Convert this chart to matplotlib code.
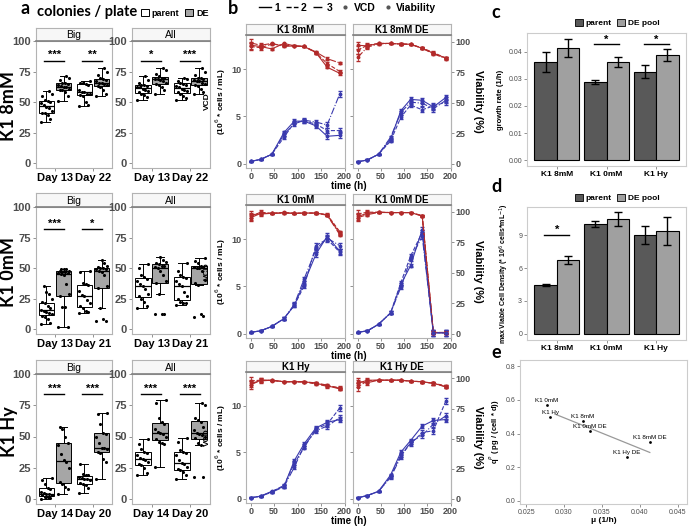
import numpy as np
import matplotlib
matplotlib.use('Agg')
import matplotlib.pyplot as plt
from matplotlib.patches import Patch
from matplotlib.lines import Line2D

plt.rcParams['font.family'] = ['Liberation Sans', 'DejaVu Sans']
BIG_FONT = ['Lato', 'DejaVu Sans']

W, H = 689, 527

# ---------------- panel a: colonies / plate ----------------
rows_a = ['K1 8mM', 'K1 0mM', 'K1 Hy']
days_a = [['Day 13', 'Day 22'], ['Day 13', 'Day 21'], ['Day 14', 'Day 20']]
facets_a = ['Big', 'All']

# order inside each list: day1 parent, day1 DE, day2 parent, day2 DE
big_8mm = [
    [34, 36, 39, 41, 41, 43, 45, 46, 48, 49, 50, 51, 52, 55, 57, 59],
    [51, 55, 58, 60, 60, 61, 62, 62, 63, 64, 65, 66, 66, 68, 70, 71],
    [47, 48, 50, 55, 56, 57, 57, 58, 58, 60, 64, 65, 66, 66, 67],
    [55, 57, 60, 62, 63, 64, 65, 66, 66, 67, 68, 69, 70, 72, 75, 78],
]
all_8mm = [
    [52, 54, 56, 57, 58, 59, 60, 61, 62, 62, 63, 64, 64, 66, 68, 71],
    [57, 60, 62, 64, 65, 66, 67, 68, 69, 69, 70, 70, 71, 73, 76, 78],
    [52, 53, 55, 57, 58, 59, 60, 61, 62, 63, 64, 65, 66, 67, 69, 70],
    [57, 58, 61, 63, 64, 65, 66, 67, 67, 68, 69, 70, 70, 72, 75, 78],
]
big_0mm = [
    [4, 5, 8, 10, 11, 12, 13, 14, 15, 16, 17, 19, 21, 22, 25, 29, 30, 35],
    [2, 2, 18, 18, 27, 29, 37, 44, 45, 46, 46, 47, 47, 48, 48, 49, 49, 49],
    [13, 14, 15, 17, 19, 21, 24, 27, 28, 31, 36, 37, 38, 47, 48],
    [7, 7, 8, 17, 34, 35, 44, 47, 48, 49, 49, 50, 50, 51, 52, 54, 57],
]
all_0mm = [
    [17, 19, 22, 25, 27, 29, 33, 35, 37, 39, 41, 43, 44, 50, 53],
    [12, 12, 12, 29, 38, 39, 44, 48, 50, 51, 52, 52, 53, 54, 55, 57, 59],
    [20, 21, 21, 22, 25, 27, 30, 35, 37, 39, 42, 43, 44, 48, 54],
    [10, 11, 12, 36, 38, 40, 48, 50, 50, 51, 51, 52, 54, 56, 58],
]
big_hy = [
    [0, 1, 2, 2, 3, 3, 4, 4, 5, 6, 8, 9, 12, 15, 17],
    [4, 8, 10, 12, 14, 25, 30, 31, 36, 43, 45, 50, 56, 58],
    [5, 9, 11, 12, 13, 15, 16, 16, 17, 18, 19, 19, 20, 28],
    [16, 30, 32, 37, 38, 40, 41, 41, 45, 50, 52, 53, 60, 68, 69],
]
all_hy = [
    [19, 21, 25, 27, 28, 30, 31, 32, 33, 35, 37, 38, 40, 44, 48],
    [26, 44, 45, 46, 48, 50, 52, 53, 54, 56, 60, 62, 65, 77, 79],
    [16, 19, 22, 23, 24, 26, 28, 29, 31, 35, 37, 38, 39, 46, 49],
    [18, 18, 43, 45, 49, 50, 51, 52, 53, 55, 58, 62, 63, 65, 75, 77],
]
sig_8mm = [['***', '**'], ['*', '***']]
sig_0mm = [['***', '*'], ['', '']]
sig_hy = [['***', '***'], ['***', '***']]
sig_level_a = [84, 82, 84]

# ---------------- panel b: growth curves ----------------
time_h = [0, 21, 45, 71, 93, 114, 139, 163, 190]
facets_b = [['K1 8mM', 'K1 8mM DE'], ['K1 0mM', 'K1 0mM DE'], ['K1 Hy', 'K1 Hy DE']]

vcd_8mm = [[0.25, 0.45, 1.0, 3.3, 4.5, 4.5, 4.0, 2.9, 3.0],
           [0.25, 0.45, 1.0, 2.8, 4.35, 4.5, 4.2, 3.5, 3.5],
           [0.25, 0.45, 1.0, 3.1, 4.2, 4.6, 4.4, 4.1, 7.4]]
via_8mm = [[97, 96, 94, 98.5, 96.5, 96, 91, 79, 74],
           [96, 95, 98, 97, 96.5, 96, 91, 82, 75.5],
           [99, 97, 98.5, 96, 96.5, 96, 91.5, 86, 82.5]]
vcd_8mm_de = [[0.2, 0.4, 1.0, 2.6, 5.6, 6.8, 6.7, 6.0, 7.0],
              [0.2, 0.4, 1.0, 2.4, 4.9, 6.2, 5.7, 6.1, 6.5],
              [0.2, 0.4, 1.0, 2.8, 5.4, 6.5, 6.4, 5.8, 6.7]]
via_8mm_de = [[97, 96.5, 98.5, 98.5, 98, 97.8, 94.5, 90.5, 86.5],
              [93, 97, 98.5, 98.5, 98, 97.8, 94.8, 91, 86.5],
              [87, 95.5, 98, 98.5, 98, 97.8, 94.5, 90, 86]]
vcd_0mm = [[0.15, 0.3, 0.77, 1.6, 3.0, 5.4, 8.4, 10.3, 8.7],
           [0.15, 0.3, 0.77, 1.6, 3.0, 5.05, 9.3, 10.0, 8.6],
           [0.15, 0.3, 0.77, 1.6, 3.1, 5.8, 8.9, 10.1, 9.3]]
via_0mm = [[95, 98.5, 98.6, 99, 98.6, 98.8, 98.8, 97.3, 82],
           [96, 99.5, 98.6, 99.3, 98.6, 98.8, 98.8, 97.5, 83.5],
           [97.5, 98, 98.6, 98.8, 98.6, 98.8, 98.8, 97.0, 81]]
vcd_0mm_de = [[0.15, 0.3, 1.0, 2.2, 5.2, 7.2, 11.0, 0.1, 0.1],
              [0.15, 0.3, 1.0, 2.2, 5.4, 8.2, 10.7, 0.1, 0.1],
              [0.15, 0.3, 1.0, 2.2, 4.9, 7.9, 10.3, 0.1, 0.1]]
via_0mm_de = [[96, 98.6, 99.5, 99.2, 99.2, 99.2, 96.5, 1, 1],
              [98, 99.5, 99.5, 99.2, 99.2, 99.2, 96.8, 1, 1],
              [95, 97.5, 99.3, 99.2, 99.2, 99.2, 96.3, 1, 1]]
vcd_hy = [[0.1, 0.28, 0.8, 1.33, 4.1, 5.9, 7.6, 8.2, 8.5],
          [0.1, 0.28, 0.75, 1.45, 3.8, 5.5, 7.5, 8.0, 9.75],
          [0.1, 0.28, 0.7, 1.3, 3.4, 5.7, 7.3, 7.8, 8.7]]
via_hy = [[94.6, 98.6, 98.6, 97.3, 97.3, 97.3, 96, 94, 91.3],
          [98, 98.6, 98.3, 97.3, 97.3, 97, 95.5, 93.5, 92.5],
          [96, 98, 98.6, 97.3, 97.3, 97.3, 96.3, 94.5, 91.8]]
vcd_hy_de = [[0.1, 0.35, 0.8, 2.56, 5.0, 6.25, 7.8, 8.4, 8.5],
             [0.1, 0.35, 0.8, 2.4, 4.7, 5.9, 7.1, 7.3, 10.5],
             [0.1, 0.35, 0.8, 2.3, 4.5, 6.1, 6.8, 8.0, 8.9]]
via_hy_de = [[96, 98.6, 98.6, 98.6, 98.6, 97.8, 97.3, 96, 93.2],
             [93, 98, 98.6, 98.6, 98.6, 97.8, 97.3, 96, 94],
             [97.5, 96.5, 98.6, 98.6, 98.6, 97.8, 97.3, 96, 93]]
vcd_err = [0.05, 0.05, 0.08, 0.15, 0.2, 0.2, 0.25, 0.3, 0.3]
via_err = [3, 1.5, 0.5, 0.5, 0.5, 0.5, 0.8, 1, 1]
VIA_SCALE = 7.75   # viability (%) per VCD unit on the secondary axis

# ---------------- panels c, d, e ----------------
clones = ['K1 8mM', 'K1 0mM', 'K1 Hy']
growth_parent = [0.0363, 0.0289, 0.0326]
growth_parent_err = [0.0037, 0.0007, 0.0024]
growth_de = [0.0414, 0.0363, 0.0388]
growth_de_err = [0.0033, 0.0017, 0.0022]
maxvcd_parent = [4.45, 10.0, 9.0]
maxvcd_parent_err = [0.05, 0.25, 0.8]
maxvcd_de = [6.75, 10.45, 9.36]
maxvcd_de_err = [0.35, 0.6, 1.3]

mu_e = [0.02776, 0.0282, 0.0325, 0.0334, 0.0413, 0.0383]
qp_e = [0.57, 0.50, 0.475, 0.415, 0.35, 0.26]
labels_e = ['K1 0mM', 'K1 Hy', 'K1 8mM', 'K1 0mM DE', 'K1 8mM DE', 'K1 Hy DE']
fit_range_e = [0.0288, 0.0413]

fig = plt.figure(figsize=(W / 100, H / 100), dpi=100)


def add_ax(x0, y0, x1, y1):
    return fig.add_axes([x0 / W, 1 - y1 / H, (x1 - x0) / W, (y1 - y0) / H])


def style_box(ax, color='#B3B3B3'):
    for s in ax.spines.values():
        s.set_color(color)
        s.set_linewidth(0.8)
    ax.tick_params(color='#808080', length=2, width=0.6, pad=1.5)


def add_strip(x0, x1, y0, y1, text, bold=False, size=7.5):
    sax = add_ax(x0, y0, x1, y1)
    sax.set_facecolor('#F7F7F7')
    sax.set_xticks([])
    sax.set_yticks([])
    style_box(sax)
    sax.spines['bottom'].set_color('#7F7F7F')
    sax.spines['bottom'].set_linewidth(1.2)
    sax.text(0.5, 0.45, text, ha='center', va='center', fontsize=size,
             fontweight='bold' if bold else 'normal', transform=sax.transAxes)


# ---- panel a ----
data_a = [[big_8mm, all_8mm], [big_0mm, all_0mm], [big_hy, all_hy]]
sig_a = [sig_8mm, sig_0mm, sig_hy]
rows_a_y = [(28, 41, 168), (193, 207, 334), (360, 374, 504)]
row_label_y = [106, 272, 432]
cols_a_x = [(36, 112), (132, 210)]
pos = [1 - 0.225, 1 + 0.225, 2 - 0.225, 2 + 0.225]
fills = ['white', '#A6A6A6', 'white', '#A6A6A6']

for r in range(3):
    st, top, bot = rows_a_y[r]
    for c in range(2):
        x0, x1 = cols_a_x[c]
        ax = add_ax(x0, top, x1, bot)
        groups = data_a[r][c]
        bp = ax.boxplot(groups, positions=pos, widths=0.4, patch_artist=True,
                        showfliers=False, capwidths=0.2,
                        medianprops=dict(color='black', lw=0.9),
                        whiskerprops=dict(color='black', lw=0.7),
                        capprops=dict(color='black', lw=0.7),
                        boxprops=dict(edgecolor='black', lw=0.7))
        for patch, fc in zip(bp['boxes'], fills):
            patch.set_facecolor(fc)
        for p, vals in zip(pos, groups):
            offs = [((i * 7) % 9 - 4) * 0.035 for i in range(len(vals))]
            ax.scatter(np.array(offs) + p, vals, s=5, color='black', zorder=3, lw=0)
        sy = sig_level_a[r]
        for d in range(2):
            lab = sig_a[r][c][d]
            if lab:
                ax.plot([d + 1 - 0.28, d + 1 + 0.24], [sy, sy], color='black', lw=1)
                ax.text(d + 0.98, sy + 0.5, lab, ha='center', va='bottom',
                        fontsize=8, fontweight='bold')
        ax.set_xlim(0.5, 2.5)
        ax.set_ylim(-4, 100)
        ax.set_yticks([0, 25, 50, 75, 100])
        ax.set_xticks([1, 2])
        ax.set_xticklabels(days_a[r], fontsize=8, fontweight='bold')
        ax.tick_params(axis='y', labelsize=8, labelcolor='#4D4D4D')
        for t in ax.get_yticklabels():
            t.set_fontweight('bold')
        style_box(ax)
        add_strip(x0, x1, st, top, facets_a[c])
    fig.text(9 / W, 1 - row_label_y[r] / H, rows_a[r], rotation=90,
             ha='center', va='center', fontsize=13, fontweight='bold', family=BIG_FONT)

fig.text(25 / W, 1 - 9 / H, 'a', fontsize=13, fontweight='bold', ha='center',
         va='center', family=BIG_FONT)
fig.text(37 / W, 1 - 12 / H, 'colonies / plate', fontsize=10.5, fontweight='bold',
         ha='left', va='center', family=BIG_FONT)
fig.legend(handles=[Patch(facecolor='white', edgecolor='black', lw=0.7),
                    Patch(facecolor='#A6A6A6', edgecolor='black', lw=0.7)],
           labels=['parent', 'DE'], loc='center left',
           bbox_to_anchor=(136 / W, 1 - 13 / H), ncol=2, frameon=False,
           prop=dict(size=6.5, weight='bold'), handlelength=0.9, handleheight=0.9,
           handletextpad=0.35, columnspacing=0.6, borderpad=0)

# ---- panel b ----
vcd_b = [[vcd_8mm, vcd_8mm_de], [vcd_0mm, vcd_0mm_de], [vcd_hy, vcd_hy_de]]
via_b = [[via_8mm, via_8mm_de], [via_0mm, via_0mm_de], [via_hy, via_hy_de]]
rows_b_y = [(24, 35, 168), (194, 205, 338), (361, 372, 503)]
cols_b_x = [(246, 345), (353, 451)]
styles = ['-', '--', '-.']
blue = '#3A3AAE'
red = '#B22A2A'

for r in range(3):
    st, top, bot = rows_b_y[r]
    for c in range(2):
        x0, x1 = cols_b_x[c]
        ax = add_ax(x0, top, x1, bot)
        for k in range(3):
            ax.errorbar(time_h, np.array(via_b[r][c][k]) / VIA_SCALE,
                        yerr=np.array(via_err) / VIA_SCALE, color=red, ls=styles[k],
                        lw=0.8, marker='o', ms=1.8, capsize=1.3, elinewidth=0.6)
            ax.errorbar(time_h, vcd_b[r][c][k], yerr=vcd_err, color=blue,
                        ls=styles[k], lw=0.8, marker='o', ms=1.8, capsize=1.3,
                        elinewidth=0.6)
        ax.set_xlim(-10, 201)
        ax.set_ylim(-3.5 / VIA_SCALE, 105.4 / VIA_SCALE)
        ax.set_xticks([0, 50, 100, 150, 200])
        ax.set_yticks([0, 5, 10])
        ax.tick_params(labelsize=6.5, labelcolor='#4D4D4D')
        ax.tick_params(axis='x', pad=1)
        for t in ax.get_xticklabels() + ax.get_yticklabels():
            t.set_fontweight('bold')
        style_box(ax)
        ax.tick_params(axis='x', pad=1)
        if c == 0:
            ax.set_ylabel('VCD\n(10$^6$ * cells / mL)', fontsize=6, fontweight='bold',
                          labelpad=2, linespacing=1.3)
        else:
            ax.tick_params(axis='y', labelleft=False)
            sec = ax.secondary_yaxis('right', functions=(lambda v: v * VIA_SCALE,
                                                         lambda v: v / VIA_SCALE))
            sec.set_yticks([0, 25, 50, 75, 100])
            sec.tick_params(labelsize=6.5, labelcolor='#4D4D4D', color='#808080',
                            length=2, width=0.6, pad=1.5)
            for t in sec.get_yticklabels():
                t.set_fontweight('bold')
            sec.spines['right'].set_color('#B3B3B3')
            sec.set_ylabel('Viability (%)', rotation=270, fontsize=8,
                           fontweight='bold', labelpad=9)
        add_strip(x0, x1, st, top, facets_b[r][c], bold=True, size=7)
    fig.text(349 / W, 1 - (bot + 18) / H, 'time (h)', ha='center', va='center',
             fontsize=7, fontweight='bold')

fig.text(233 / W, 1 - 9 / H, 'b', fontsize=13, fontweight='bold', ha='center',
         va='center', family=BIG_FONT)
leg_handles = [Line2D([], [], color='black', ls='-', lw=1),
               Line2D([], [], color='black', ls='--', lw=1),
               Line2D([], [], color='black', ls='-.', lw=1),
               Line2D([], [], color='#555555', ls='none', marker='o', ms=2),
               Line2D([], [], color='#555555', ls='none', marker='o', ms=2)]
fig.legend(handles=leg_handles, labels=['1', '2', '3', 'VCD', 'Viability'],
           loc='center', bbox_to_anchor=(348 / W, 1 - 8 / H), ncol=5, frameon=False,
           prop=dict(size=7.5, weight='bold'), handlelength=1.1, handletextpad=0.3,
           columnspacing=0.6, borderpad=0)

# ---- panels c and d ----
xc = np.arange(1, 4)
dark_grey = '#595959'
light_grey = '#A0A0A0'


def bar_panel(ax, vp, ep, vd, ed):
    ax.bar(xc - 0.225, vp, 0.45, color=dark_grey, edgecolor='black', lw=0.8)
    ax.bar(xc + 0.225, vd, 0.45, color=light_grey, edgecolor='black', lw=0.8)
    ax.errorbar(xc - 0.225, vp, yerr=ep, fmt='none', ecolor='black', capsize=3,
                elinewidth=1, capthick=1)
    ax.errorbar(xc + 0.225, vd, yerr=ed, fmt='none', ecolor='black', capsize=3,
                elinewidth=1, capthick=1)
    ax.set_xlim(0.4, 3.6)
    ax.set_xticks(xc)
    ax.set_xticklabels(clones, fontsize=6, fontweight='bold')
    ax.tick_params(axis='y', labelsize=5, labelcolor='#4D4D4D')
    style_box(ax, '#CCCCCC')


def sig_bar(ax, x, y, dy):
    ax.plot([x - 0.25, x + 0.25], [y, y], color='black', lw=1)
    ax.text(x, y + dy, '*', ha='center', va='center', fontsize=8, fontweight='bold')


ax_c = add_ax(527, 33, 686, 166)
bar_panel(ax_c, growth_parent, growth_parent_err, growth_de, growth_de_err)
ax_c.set_ylim(-0.0022, 0.047)
ax_c.set_yticks([0, 0.01, 0.02, 0.03, 0.04])
ax_c.set_yticklabels(['0.00', '0.01', '0.02', '0.03', '0.04'])
ax_c.set_ylabel('growth rate (1/h)', fontsize=5.5, fontweight='bold', labelpad=3)
sig_bar(ax_c, 2, 0.0428, 0.0018)
sig_bar(ax_c, 3, 0.0428, 0.0018)

ax_d = add_ax(527, 207, 686, 340)
bar_panel(ax_d, maxvcd_parent, maxvcd_parent_err, maxvcd_de, maxvcd_de_err)
ax_d.set_ylim(-0.55, 11.55)
ax_d.set_yticks([0, 3, 6, 9])
ax_d.set_ylabel('max Viable Cell Density (* 10$^6$ cells*mL$^{-1}$)', fontsize=5,
                fontweight='bold', labelpad=5)
sig_bar(ax_d, 1, 9.0, 0.45)

for yy in (23, 198):
    fig.legend(handles=[Patch(facecolor=dark_grey, edgecolor='black', lw=0.6),
                        Patch(facecolor=light_grey, edgecolor='black', lw=0.6)],
               labels=['parent', 'DE pool'], loc='center',
               bbox_to_anchor=(617 / W, 1 - yy / H), ncol=2, frameon=False,
               prop=dict(size=6, weight='bold'), handlelength=1.0, handleheight=0.9,
               handletextpad=0.3, columnspacing=0.6, borderpad=0)

# ---- panel e ----
ax_e = add_ax(520, 360, 687, 504)
ax_e.scatter(mu_e, qp_e, s=4, color='black', zorder=3, lw=0)
coef = np.polyfit(mu_e, qp_e, 1)
fx = np.array(fit_range_e)
ax_e.plot(fx, np.polyval(coef, fx), color='#999999', lw=0.9)
for xv, yv, lab in zip(mu_e, qp_e, labels_e):
    ax_e.annotate(lab, (xv, yv), xytext=(0, 1.5), textcoords='offset points',
                  ha='center', va='bottom', fontsize=4.5)
ax_e.set_xlim(0.0242, 0.0462)
ax_e.set_ylim(-0.018, 0.836)
ax_e.set_xticks([0.025, 0.030, 0.035, 0.040, 0.045])
ax_e.set_xticklabels(['0.025', '0.030', '0.035', '0.040', '0.045'])
ax_e.set_yticks([0, 0.2, 0.4, 0.6, 0.8])
ax_e.tick_params(labelsize=5, labelcolor='#4D4D4D')
ax_e.set_xlabel('μ (1/h)', fontsize=6, fontweight='bold', labelpad=1)
ax_e.set_ylabel('q$^P$ ( pg / (cell * d))', fontsize=5.5, fontweight='bold', labelpad=2)
style_box(ax_e, '#CCCCCC')

for lab, yy in (('c', 12), ('d', 187), ('e', 353)):
    fig.text(496 / W, 1 - yy / H, lab, fontsize=13, fontweight='bold', ha='center',
             va='center', family=BIG_FONT)

fig.savefig('out.png', dpi=100)
